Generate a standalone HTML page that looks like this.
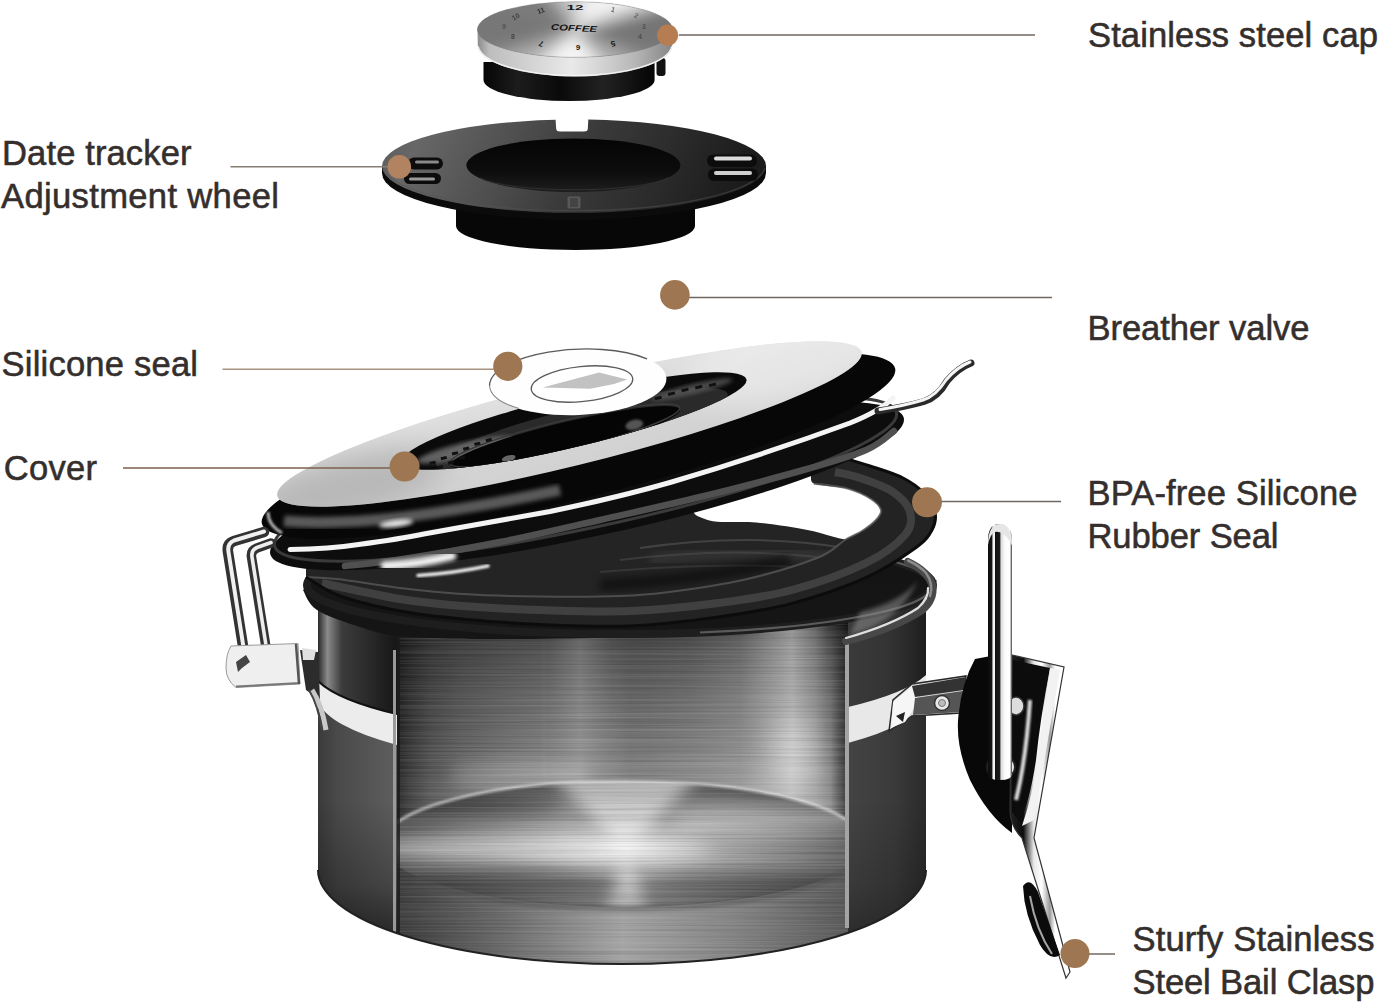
<!DOCTYPE html>
<html lang="en">
<head>
<meta charset="utf-8">
<title>Coffee canister parts</title>
<style>
html,body{margin:0;padding:0;background:#fff;}
body{width:1381px;height:1003px;overflow:hidden;position:relative;}
svg{position:absolute;left:0;top:0;display:block;}
text{font-family:"Liberation Sans",Arial,Helvetica,sans-serif;}
.lbl{font-size:34.6px;fill:#342e2c;stroke:#342e2c;stroke-width:.55px;}
.ln{stroke:#72675f;stroke-width:1.5;fill:none;}
.dot{fill:#9e7651;}
</style>
</head>
<body>
<svg width="1381" height="1003" viewBox="0 0 1381 1003">
<defs>
<filter id="b1" x="-20%" y="-20%" width="140%" height="140%"><feGaussianBlur stdDeviation="1"/></filter>
<filter id="b2" x="-20%" y="-20%" width="140%" height="140%"><feGaussianBlur stdDeviation="2"/></filter>
<filter id="b4" x="-30%" y="-30%" width="160%" height="160%"><feGaussianBlur stdDeviation="4"/></filter>
<filter id="b8" x="-40%" y="-40%" width="180%" height="180%"><feGaussianBlur stdDeviation="8"/></filter>
<filter id="b14" x="-50%" y="-50%" width="200%" height="200%"><feGaussianBlur stdDeviation="14"/></filter>
<filter id="b25" x="-60%" y="-60%" width="220%" height="220%"><feGaussianBlur stdDeviation="25"/></filter>
<filter id="brush" x="0" y="0" width="100%" height="100%">
  <feTurbulence type="fractalNoise" baseFrequency="0.004 0.55" numOctaves="2" seed="7" result="n"/>
  <feColorMatrix in="n" type="matrix" values="0 0 0 0 1  0 0 0 0 1  0 0 0 0 1  1.6 0 0 0 -0.62"/>
</filter>
<filter id="brushd" x="0" y="0" width="100%" height="100%">
  <feTurbulence type="fractalNoise" baseFrequency="0.004 0.55" numOctaves="2" seed="11" result="n"/>
  <feColorMatrix in="n" type="matrix" values="0 0 0 0 0  0 0 0 0 0  0 0 0 0 0  1.6 0 0 0 -0.62"/>
</filter>
<clipPath id="capface"><ellipse cx="575" cy="29.5" rx="97.5" ry="27.8"/></clipPath>
<linearGradient id="capside" x1="0" x2="1" y1="0" y2="0">
  <stop offset="0" stop-color="#8a8a8a"/><stop offset="0.06" stop-color="#bdbdbd"/><stop offset="0.3" stop-color="#d6d6d6"/>
  <stop offset="0.48" stop-color="#e9e9e9"/><stop offset="0.6" stop-color="#d9d9d9"/><stop offset="0.8" stop-color="#b8b8b8"/><stop offset="1" stop-color="#858585"/>
</linearGradient>
<linearGradient id="capblk" x1="0" x2="1" y1="0" y2="0">
  <stop offset="0" stop-color="#060606"/><stop offset="0.2" stop-color="#1c1c1c"/><stop offset="0.45" stop-color="#0a0a0a"/>
  <stop offset="0.7" stop-color="#222"/><stop offset="1" stop-color="#050505"/>
</linearGradient>
<linearGradient id="whface" x1="0" x2="1" y1="0" y2="0.12">
  <stop offset="0" stop-color="#5a5a5a"/><stop offset="0.12" stop-color="#676767"/><stop offset="0.35" stop-color="#505050"/><stop offset="0.55" stop-color="#3b3b3b"/><stop offset="0.8" stop-color="#2a2a2a"/><stop offset="1" stop-color="#1b1b1b"/>
</linearGradient>
<linearGradient id="whhole" x1="0" x2="0" y1="0" y2="1">
  <stop offset="0" stop-color="#050505"/><stop offset="0.6" stop-color="#0c0c0c"/><stop offset="1" stop-color="#1e1e1e"/>
</linearGradient>
<clipPath id="body"><rect x="318" y="560" width="608" height="310"/><ellipse cx="622" cy="870" rx="304" ry="94"/></clipPath>
<clipPath id="cutX"><rect x="397" y="560" width="451" height="420"/></clipPath>
<clipPath id="shellLX"><rect x="318" y="560" width="79" height="420"/></clipPath>
<clipPath id="shellRX"><rect x="848" y="560" width="78" height="420"/></clipPath>
<linearGradient id="wallV" x1="0" x2="0" y1="622" y2="790" gradientUnits="userSpaceOnUse">
  <stop offset="0" stop-color="#343434"/><stop offset="0.15" stop-color="#525252"/><stop offset="0.45" stop-color="#6e6e6e"/><stop offset="0.75" stop-color="#808080"/><stop offset="1" stop-color="#929292"/>
</linearGradient>
<linearGradient id="wallH" x1="397" x2="848" y1="0" y2="0" gradientUnits="userSpaceOnUse">
  <stop offset="0.000" stop-color="#000" stop-opacity="0.7"/><stop offset="0.029" stop-color="#000" stop-opacity="0.55"/><stop offset="0.073" stop-color="#000" stop-opacity="0.38"/><stop offset="0.140" stop-color="#000" stop-opacity="0.24"/><stop offset="0.228" stop-color="#000" stop-opacity="0.13"/><stop offset="0.317" stop-color="#000" stop-opacity="0.03"/><stop offset="0.335" stop-color="#fff" stop-opacity="0"/><stop offset="0.406" stop-color="#fff" stop-opacity="0.16"/><stop offset="0.477" stop-color="#fff" stop-opacity="0"/><stop offset="0.479" stop-color="#000" stop-opacity="0"/><stop offset="0.517" stop-color="#000" stop-opacity="0.07"/><stop offset="0.561" stop-color="#000" stop-opacity="0.06"/><stop offset="0.639" stop-color="#000" stop-opacity="0"/><stop offset="0.641" stop-color="#fff" stop-opacity="0"/><stop offset="0.761" stop-color="#fff" stop-opacity="0.12"/><stop offset="0.876" stop-color="#fff" stop-opacity="0.45"/><stop offset="0.927" stop-color="#fff" stop-opacity="0.22"/><stop offset="0.958" stop-color="#fff" stop-opacity="0"/><stop offset="0.960" stop-color="#000" stop-opacity="0"/><stop offset="0.978" stop-color="#000" stop-opacity="0.3"/><stop offset="1.000" stop-color="#000" stop-opacity="0.62"/>
</linearGradient>
<radialGradient id="floorG" cx="625" cy="849" r="240" gradientUnits="userSpaceOnUse" gradientTransform="translate(0 617.2) scale(1 0.273)">
  <stop offset="0" stop-color="#f2f2f2"/><stop offset="0.18" stop-color="#cdcdcd"/><stop offset="0.45" stop-color="#a2a2a2"/><stop offset="0.75" stop-color="#808080"/><stop offset="1" stop-color="#5c5c5c"/>
</radialGradient>
<linearGradient id="frontG" x1="397" x2="848" y1="0" y2="0" gradientUnits="userSpaceOnUse">
  <stop offset="0" stop-color="#3e3e3e"/><stop offset="0.25" stop-color="#6e6e6e"/><stop offset="0.5" stop-color="#a4a4a4"/><stop offset="0.75" stop-color="#858585"/><stop offset="1" stop-color="#5a5a5a"/>
</linearGradient>
<linearGradient id="shellLG" x1="318" x2="397" y1="0" y2="0" gradientUnits="userSpaceOnUse">
  <stop offset="0" stop-color="#3a3a3a"/><stop offset="0.25" stop-color="#4a4a4a"/><stop offset="1" stop-color="#5e5e5e"/>
</linearGradient>
<linearGradient id="shellBot" x1="0" x2="0" y1="800" y2="940" gradientUnits="userSpaceOnUse">
  <stop offset="0" stop-color="#000" stop-opacity="0"/><stop offset="0.6" stop-color="#000" stop-opacity=".25"/><stop offset="1" stop-color="#000" stop-opacity=".6"/>
</linearGradient>
<linearGradient id="shellRG" x1="848" x2="926" y1="0" y2="0" gradientUnits="userSpaceOnUse">
  <stop offset="0" stop-color="#444"/><stop offset="0.6" stop-color="#3a3a3a"/><stop offset="1" stop-color="#2a2a2a"/>
</linearGradient>
<linearGradient id="shellLT" x1="318" x2="397" y1="0" y2="0" gradientUnits="userSpaceOnUse">
  <stop offset="0" stop-color="#2a2a2a"/><stop offset="0.12" stop-color="#8a8a8a"/><stop offset="0.3" stop-color="#3c3c3c"/><stop offset="1" stop-color="#161616"/>
</linearGradient>
<linearGradient id="shellRT" x1="848" x2="926" y1="0" y2="0" gradientUnits="userSpaceOnUse">
  <stop offset="0" stop-color="#3a3a3a"/><stop offset="0.5" stop-color="#343434"/><stop offset="0.85" stop-color="#262626"/><stop offset="1" stop-color="#1c1c1c"/>
</linearGradient>
<linearGradient id="lidface" x1="275" y1="493" x2="869" y2="354" gradientUnits="userSpaceOnUse">
  <stop offset="0" stop-color="#9e9e9e"/><stop offset="0.1" stop-color="#bdbdbd"/><stop offset="0.3" stop-color="#c9c9c9"/><stop offset="0.6" stop-color="#d6d6d6"/><stop offset="0.85" stop-color="#e9e9e9"/><stop offset="1" stop-color="#f3f3f3"/>
</linearGradient>
<linearGradient id="lidfaceV" x1="0" y1="-40" x2="0" y2="40" gradientUnits="userSpaceOnUse">
  <stop offset="0" stop-color="#fff" stop-opacity=".32"/><stop offset="0.35" stop-color="#fff" stop-opacity=".12"/><stop offset="1" stop-color="#fff" stop-opacity="0"/>
</linearGradient>
<clipPath id="lidhole"><ellipse cx="0" cy="0" rx="177.7" ry="25.8"/></clipPath>
<clipPath id="lidfc"><ellipse cx="0" cy="0" rx="300.8" ry="42"/></clipPath>
<linearGradient id="rodG" x1="988" x2="1012" y1="0" y2="0" gradientUnits="userSpaceOnUse">
  <stop offset="0" stop-color="#0c0c0c"/><stop offset="0.17" stop-color="#141414"/><stop offset="0.2" stop-color="#eee"/><stop offset="0.28" stop-color="#f4f4f4"/><stop offset="0.31" stop-color="#101010"/><stop offset="0.49" stop-color="#1c1c1c"/><stop offset="0.54" stop-color="#dadada"/><stop offset="0.7" stop-color="#fbfbfb"/><stop offset="0.9" stop-color="#fff"/><stop offset="0.95" stop-color="#b0b0b0"/><stop offset="1" stop-color="#777"/>
</linearGradient>
<linearGradient id="plateG" x1="1010" x2="1063" y1="0" y2="0" gradientUnits="userSpaceOnUse">
  <stop offset="0" stop-color="#222"/><stop offset="0.25" stop-color="#0c0c0c"/><stop offset="0.45" stop-color="#e8e8e8"/><stop offset="0.6" stop-color="#fff"/><stop offset="0.75" stop-color="#9a9a9a"/><stop offset="0.85" stop-color="#fff"/><stop offset="1" stop-color="#fff"/>
</linearGradient>
<clipPath id="floorC"><ellipse cx="624" cy="844" rx="242" ry="63"/></clipPath>

</defs>
<g id="cap">
<!-- black base -->
<path d="M483.5 62 L483.5 80 A85.5 21 0 0 0 654.6 80 L654.6 62 Z" fill="url(#capblk)"/>
<!-- tab -->
<rect x="656.5" y="58" width="9" height="18" rx="3" fill="#111"/>
<!-- steel side -->
<path d="M477.5 29.5 L477.8 45 A97.2 31.5 0 0 0 672.2 45 L672.5 29.5 Z" fill="url(#capside)"/>
<path d="M478.2 46.5 A97 31 0 0 0 671.8 46.5" fill="none" stroke="#f2f2f2" stroke-width="1.3"/>
<!-- face -->
<ellipse cx="575" cy="29.5" rx="97.5" ry="27.8" fill="#7c7c7c"/>
<g clip-path="url(#capface)">
  <g filter="url(#b8)">
    <path d="M575 30 L575 -40 L720 -40 L690 -5 Z" fill="#f2f2f2"/>
    <path d="M575 30 L520 -40 L590 -40 Z" fill="#c4c4c4"/>
    <path d="M575 30 L500 90 L625 90 Z" fill="#f4f4f4"/>
    <path d="M575 30 L620 90 L690 80 Z" fill="#b0b0b0"/>
    <path d="M575 30 L440 75 L510 90 Z" fill="#b4b4b4"/>
    <path d="M575 30 L720 0 L720 60 Z" fill="#747474"/>
    <path d="M575 30 L430 -10 L430 55 Z" fill="#777"/>
  </g>
</g>
<ellipse cx="575" cy="29.5" rx="97.5" ry="27.8" fill="none" stroke="#7a7a7a" stroke-opacity=".35" stroke-width="1"/>
<!-- markings -->
<g fill="#151515" font-weight="700" text-anchor="middle" font-size="8">
  <text x="574" y="31" font-size="8.5" font-style="italic" textLength="46" lengthAdjust="spacingAndGlyphs" transform="rotate(3 574 28)">COFFEE</text>
  <text x="575" y="10" font-size="7.5" textLength="17" lengthAdjust="spacingAndGlyphs">12</text>
  <text x="541" y="13" font-size="7" transform="rotate(-20 541 11)" opacity=".8">11</text>
  <text x="516" y="19" font-size="7" transform="rotate(-30 516 17)" opacity=".55">10</text>
  <text x="613" y="12" font-size="7" transform="rotate(18 613 10)" opacity=".6">1</text>
  <text x="636" y="18" font-size="7" transform="rotate(25 636 16)" opacity=".45">2</text>
  <text x="644" y="29" font-size="7" opacity=".4">3</text>
  <text x="640" y="39" font-size="7" opacity=".45">4</text>
  <text x="504" y="29" font-size="7" opacity=".4">9</text>
  <text x="513" y="39" font-size="7" opacity=".55">8</text>
  <text x="541" y="47" font-size="8" transform="rotate(200 541 44)">7</text>
  <text x="578" y="51" font-size="8" transform="rotate(180 578 48)">6</text>
  <text x="613" y="47" font-size="8" transform="rotate(165 613 44)">5</text>
</g>
</g>

<g id="wheel">
<!-- lower cylinder -->
<path d="M456 200 L456 226 A119.5 24 0 0 0 695 226 L695 200 Z" fill="#070707"/>
<!-- rim -->
<path d="M382 166 L382 173 A192 46.8 0 0 0 766 173 L766 166 Z" fill="#0b0b0b"/>
<!-- face with notch -->
<path d="M382 166 A192 46.8 0 0 1 555.6 119.8 L556.2 129 Q556.5 131.5 560 131.5 L584 131.5 Q587.6 131.5 587.8 129 L588.3 119.5 A192 46.8 0 0 1 766 166 A192 46.8 0 0 1 382 166 Z" fill="url(#whface)"/>
<path d="M383 168 A191.5 46 0 0 0 765 168" fill="none" stroke="#555" stroke-opacity=".5" stroke-width="1.2"/>
<!-- hole -->
<ellipse cx="573.4" cy="165.3" rx="107" ry="26.8" fill="url(#whhole)"/>
<path d="M480 178 A100 18 0 0 0 668 178" fill="none" stroke="#3a3a3a" stroke-width="1" opacity=".7"/>
<!-- slots left -->
<rect x="408" y="157.5" width="35" height="12" rx="6" fill="#0c0c0c"/>
<rect x="404" y="173" width="37" height="11" rx="5.5" fill="#0c0c0c"/>
<rect x="415" y="160.5" width="24" height="3" rx="1.5" fill="#8a8a8a"/>
<rect x="409" y="177.5" width="26" height="3" rx="1.5" fill="#9a9a9a"/>
<!-- slots right -->
<rect x="707" y="154.5" width="50" height="12.5" rx="6" fill="#0c0c0c"/>
<rect x="708" y="168.5" width="50" height="12.5" rx="6" fill="#0c0c0c"/>
<rect x="714" y="156.5" width="38" height="4" rx="2" fill="#dcdcdc"/>
<rect x="714" y="171" width="38" height="4" rx="2" fill="#cfcfcf"/>
<!-- tab -->
<rect x="567.5" y="196.5" width="13" height="12" rx="1.5" fill="#585858"/>
<rect x="570" y="198" width="8" height="9" fill="#444"/>
</g>

<g id="can">
<!-- back rim + inside seen from top -->
<ellipse cx="620" cy="583" rx="315" ry="50" fill="#141414"/>
<!-- shells -->
<g clip-path="url(#body)"><g clip-path="url(#shellLX)">
  <rect x="318" y="590" width="79" height="360" fill="url(#shellLG)"/>
  <rect x="318" y="790" width="79" height="160" fill="url(#shellBot)"/>
  <!-- upper dark part above band -->
  <path d="M318 590 L397 590 L397 716 A304 70 0 0 1 318 682 Z" fill="url(#shellLT)"/>
  <!-- chrome band -->
  <path d="M318 681 A304 70 0 0 0 397 714 L397 745 A304 74 0 0 1 318 701 Z" fill="#ececec"/>
  <path d="M318 681 A304 70 0 0 0 397 714" fill="none" stroke="#111" stroke-width="2"/>
</g></g>
<g clip-path="url(#body)"><g clip-path="url(#shellRX)">
  <rect x="848" y="590" width="78" height="360" fill="url(#shellRG)"/>
  <rect x="848" y="790" width="78" height="160" fill="url(#shellBot)" opacity=".6"/>
  <path d="M848 590 L926 590 L926 676 A304 70 0 0 1 848 708 Z" fill="url(#shellRT)"/>
  <path d="M848 707 A304 70 0 0 0 926 675 L926 700 A304 74 0 0 1 848 743 Z" fill="#e8e8e8"/>
</g></g>
<!-- cutaway interior -->
<g clip-path="url(#body)"><g clip-path="url(#cutX)">
  <rect x="397" y="600" width="451" height="370" fill="url(#wallV)"/>
  <rect x="397" y="600" width="451" height="370" fill="url(#wallH)"/>
  <ellipse cx="795" cy="752" rx="22" ry="34" fill="#fff" opacity=".35" filter="url(#b14)"/>
  <ellipse cx="520" cy="775" rx="70" ry="16" fill="#fff" opacity=".18" filter="url(#b8)"/>
  <!-- front wall below floor -->
  <path d="M380 850 L870 850 L870 980 L380 980 Z" fill="url(#frontG)"/>
  <!-- floor -->
  <ellipse cx="624" cy="844" rx="242" ry="63" fill="url(#floorG)"/>
  <g clip-path="url(#floorC)">
    <path d="M625 850 L535 760 L715 760 Z" fill="#fff" opacity=".55" filter="url(#b8)"/>
    <path d="M625 848 L600 930 L654 930 Z" fill="#fff" opacity=".42" filter="url(#b8)"/>
    <ellipse cx="520" cy="848" rx="190" ry="9" fill="#fff" opacity=".5" filter="url(#b8)"/>
    <ellipse cx="770" cy="820" rx="100" ry="16" fill="#fff" opacity=".3" filter="url(#b8)"/>
    <ellipse cx="470" cy="806" rx="90" ry="12" fill="#000" opacity=".28" filter="url(#b8)"/>
    <ellipse cx="510" cy="884" rx="110" ry="13" fill="#000" opacity=".38" filter="url(#b8)"/>
    <ellipse cx="745" cy="884" rx="105" ry="12" fill="#000" opacity=".3" filter="url(#b8)"/>
  </g>
  <path d="M382 844 A242 63 0 0 1 866 844" fill="none" stroke="#f0f0f0" stroke-width="3" opacity=".6" filter="url(#b1)"/>
  <path d="M382 846 A242 63 0 0 0 866 846" fill="none" stroke="#4a4a4a" stroke-width="5" opacity=".55" filter="url(#b2)"/>
  <!-- brushed texture -->
  <rect x="397" y="600" width="451" height="370" filter="url(#brush)" opacity=".16"/>
  <rect x="397" y="600" width="451" height="370" filter="url(#brushd)" opacity=".16"/>
  <!-- edges -->
  <rect x="397" y="600" width="3" height="370" fill="#1a1a1a" opacity=".8"/>
</g></g>
<path id="rimshadow" d="M303.0 590.0 C305.3 593.3 307.5 603.8 317.0 610.0 C326.5 616.2 346.7 622.7 360.0 627.0 C373.3 631.3 382.0 634.1 397.0 636.0 C412.0 637.9 429.5 638.0 450.0 638.5 C470.5 639.0 491.7 639.2 520.0 639.0 C548.3 638.8 590.0 638.2 620.0 637.5 C650.0 636.8 676.7 635.7 700.0 634.5 C723.3 633.3 742.3 631.8 760.0 630.5 C777.7 629.2 792.2 628.2 806.0 627.0 C819.8 625.8 829.0 625.7 843.0 623.0 C857.0 620.3 876.2 615.5 890.0 611.0 C903.8 606.5 918.2 601.2 926.0 596.0 C933.8 590.8 935.2 582.7 937.0 580.0 L930 584 L310 584 Z" fill="#151515"/>
<rect x="845" y="642" width="4" height="286" fill="#a4a4a4"/>
<rect x="393" y="650" width="3" height="282" fill="#9a9a9a"/>
<!-- bottom edge -->
<path d="M318 870 A304 94 0 0 0 926 870" fill="none" stroke="#222" stroke-width="2"/>
</g>

<g id="ring">
<!-- can rim front roll -->
<ellipse cx="620" cy="585" rx="313" ry="49" fill="none" stroke="#1e1e1e" stroke-width="8"/>
<path d="M700 632.5 A313 49 0 0 0 933 585 A313 49 0 0 0 880 558" fill="none" stroke="#6a6a6a" stroke-width="2.2" opacity=".8"/>
<path d="M860 612 Q905 600 918 580 Q900 622 850 635 Z" fill="#8a8a8a" opacity=".55" filter="url(#b2)"/>
<path d="M846 641 Q892 629 922 610 Q934 600 932.5 586 Q929 572 908 562" fill="none" stroke="#484848" stroke-width="8" stroke-linecap="round"/>
<path d="M846 638 Q892 625 918 608 Q929 598 928 588" fill="none" stroke="#dedede" stroke-width="2.2" stroke-linecap="round"/>
<path id="rimhl" d="M930 596 Q934 584 926 573 Q920 566 908 560.5" fill="none" stroke="#8c8c8c" stroke-width="2.5" stroke-linecap="round"/>
<!-- dark seen through ring -->
<path d="M306 577 L306 560 L640 470 L834 440 L834 455 L834.0 455.0 C840.0 456.8 858.5 462.2 870.0 466.0 C881.5 469.8 893.8 473.3 903.0 478.0 C912.2 482.7 919.7 488.3 925.0 494.0 C930.3 499.7 933.8 506.0 935.0 512.0 C936.2 518.0 935.3 524.0 932.0 530.0 C928.7 536.0 926.4 540.1 915.4 548.0 C904.4 555.9 886.6 568.4 866.0 577.6 C845.4 586.8 816.6 596.8 792.0 603.4 C767.4 610.0 745.5 613.2 718.5 617.0 C691.5 620.8 659.8 624.8 630.0 626.0 C600.2 627.2 568.0 625.7 540.0 624.5 C512.0 623.3 485.3 621.2 462.0 619.0 C438.7 616.8 420.3 614.8 400.0 611.0 C379.7 607.2 355.7 601.7 340.0 596.0 C324.3 590.3 311.7 580.2 306.0 577.0 Z" fill="#242424"/>
<path d="M640 548 Q750 532 845 548" fill="none" stroke="#4a4a4a" stroke-width="2" opacity=".8"/>
<path d="M620 560 Q750 544 850 562" fill="none" stroke="#404040" stroke-width="2" opacity=".8"/>
<path d="M600 572 Q740 560 830 570" fill="none" stroke="#3c3c3c" stroke-width="2" opacity=".8"/>
<path d="M650 560 Q760 545 850 560" fill="none" stroke="#555" stroke-width="10" opacity=".35" filter="url(#b4)"/>
<path d="M600 585 Q700 580 790 560" fill="none" stroke="#000" stroke-width="12" opacity=".5" filter="url(#b4)"/>
<!-- white gap -->
<path d="M709.5 520.5 C718.9 523.4 739.9 520.9 756.4 522.5 C772.9 524.1 794.7 527.6 808.6 530.3 C822.5 533.0 833.2 537.2 839.8 538.5 C846.4 539.8 844.3 539.2 848.0 538.0 C851.7 536.8 857.3 534.0 862.0 531.0 C866.7 528.0 872.8 523.5 876.0 520.0 C879.2 516.5 881.8 513.5 881.0 510.0 C880.2 506.5 876.6 502.6 871.0 499.0 C865.4 495.4 857.1 491.2 847.6 488.6 C838.1 486.0 821.7 486.5 813.8 483.4 C805.9 480.3 819.0 466.4 800.0 470.0 C781.0 473.6 715.1 496.6 700.0 505.0 C684.9 513.4 700.1 517.6 709.5 520.5 Z" fill="#fff"/>
<!-- ring band -->
<path d="M306.0 577.0 C311.7 580.2 324.3 590.3 340.0 596.0 C355.7 601.7 379.7 607.2 400.0 611.0 C420.3 614.8 438.7 616.8 462.0 619.0 C485.3 621.2 512.0 623.3 540.0 624.5 C568.0 625.7 600.2 627.2 630.0 626.0 C659.8 624.8 691.5 620.8 718.5 617.0 C745.5 613.2 767.4 610.0 792.0 603.4 C816.6 596.8 845.4 586.8 866.0 577.6 C886.6 568.4 904.4 555.9 915.4 548.0 C926.4 540.1 928.7 536.0 932.0 530.0 C935.3 524.0 936.2 518.0 935.0 512.0 C933.8 506.0 930.3 499.7 925.0 494.0 C919.7 488.3 912.2 482.7 903.0 478.0 C893.8 473.3 881.5 469.8 870.0 466.0 C858.5 462.2 840.0 456.8 834.0 455.0 L813.8 483.4 C819.4 484.3 838.1 486.0 847.6 488.6 C857.1 491.2 865.4 495.4 871.0 499.0 C876.6 502.6 880.2 506.5 881.0 510.0 C881.8 513.5 879.2 516.5 876.0 520.0 C872.8 523.5 867.2 527.7 862.0 531.0 C856.8 534.3 852.5 535.5 845.0 540.0 C837.5 544.5 834.0 551.3 817.0 558.0 C800.0 564.7 767.7 574.3 743.0 580.0 C718.3 585.7 689.5 589.3 669.0 592.0 C648.5 594.7 641.5 595.2 620.0 596.0 C598.5 596.8 566.3 596.8 540.0 596.5 C513.7 596.2 485.3 595.4 462.0 594.0 C438.7 592.6 420.8 590.5 400.0 588.0 C379.2 585.5 352.7 580.8 337.0 579.0 C321.3 577.2 311.2 577.3 306.0 577.0 Z" fill="#232323"/>
<path d="M322.0 583.0 C335.0 585.7 376.7 595.2 400.0 599.0 C423.3 602.8 438.7 604.2 462.0 606.0 C485.3 607.8 512.0 609.2 540.0 610.0 C568.0 610.8 600.2 612.2 630.0 611.0 C659.8 609.8 691.5 606.5 718.5 603.0 C745.5 599.5 767.4 596.7 792.0 590.0 C816.6 583.3 847.2 572.2 866.0 563.0 C884.8 553.8 897.7 543.5 905.0 535.0 C912.3 526.5 912.0 519.2 910.0 512.0 C908.0 504.8 901.3 497.7 893.0 492.0 C884.7 486.3 869.7 481.3 860.0 478.0 C850.3 474.7 839.2 473.0 835.0 472.0" fill="none" stroke="#424242" stroke-width="8" opacity=".95"/>
<path d="M813.8 483.4 C819.4 484.3 838.1 486.0 847.6 488.6 C857.1 491.2 865.4 495.4 871.0 499.0 C876.6 502.6 880.2 506.5 881.0 510.0 C881.8 513.5 879.2 516.5 876.0 520.0 C872.8 523.5 867.2 527.7 862.0 531.0 C856.8 534.3 852.5 535.5 845.0 540.0 C837.5 544.5 834.0 551.3 817.0 558.0 C800.0 564.7 767.7 574.3 743.0 580.0 C718.3 585.7 689.5 589.3 669.0 592.0 C648.5 594.7 641.5 595.2 620.0 596.0 C598.5 596.8 566.3 596.8 540.0 596.5 C513.7 596.2 485.3 595.4 462.0 594.0 C438.7 592.6 420.8 590.5 400.0 588.0 C379.2 585.5 352.7 580.8 337.0 579.0 C321.3 577.2 311.2 577.3 306.0 577.0" fill="none" stroke="#585858" stroke-width="2" opacity=".8"/>
<path d="M306.0 577.0 C311.7 580.2 324.3 590.3 340.0 596.0 C355.7 601.7 379.7 607.2 400.0 611.0 C420.3 614.8 438.7 616.8 462.0 619.0 C485.3 621.2 512.0 623.3 540.0 624.5 C568.0 625.7 600.2 627.2 630.0 626.0 C659.8 624.8 691.5 620.8 718.5 617.0 C745.5 613.2 767.4 610.0 792.0 603.4 C816.6 596.8 845.4 586.8 866.0 577.6 C886.6 568.4 904.4 555.9 915.4 548.0 C926.4 540.1 928.7 536.0 932.0 530.0 C935.3 524.0 936.2 518.0 935.0 512.0 C933.8 506.0 930.3 499.7 925.0 494.0 C919.7 488.3 912.2 482.7 903.0 478.0 C893.8 473.3 881.5 469.8 870.0 466.0 C858.5 462.2 840.0 456.8 834.0 455.0" fill="none" stroke="#0c0c0c" stroke-width="3"/>
</g>
<g id="lid">
<!-- under-lid band -->
<g transform="translate(587 486) rotate(-12.1)">
  <ellipse cx="0" cy="0" rx="324" ry="51" fill="#0d0d0d"/>
  <ellipse cx="0" cy="-7" rx="318" ry="49" fill="none" stroke="#3a3a3a" stroke-width="3" />
</g>
<path id="ulgray" d="M345.0 566.0 C354.2 564.9 374.2 563.5 400.0 559.5 C425.8 555.5 466.7 548.6 500.0 542.0 C533.3 535.4 566.7 527.5 600.0 520.0 C633.3 512.5 666.7 505.2 700.0 497.0 C733.3 488.8 772.3 478.8 800.0 471.0 C827.7 463.2 850.3 456.7 866.0 450.0 C881.7 443.3 889.3 434.2 894.0 431.0" fill="none" stroke="#505050" stroke-width="6.5" stroke-linecap="round"/>
<!-- highlight on under band -->
<path d="M385 566 Q420 564 452 556" fill="none" stroke="#f2f2f2" stroke-width="9" stroke-linecap="round" filter="url(#b2)"/>
<path d="M418 575.5 Q455 573 488 566" fill="none" stroke="#e8e8e8" stroke-width="3.5" stroke-linecap="round" filter="url(#b1)"/>
<!-- rim -->
<g transform="translate(578.5 446) rotate(-13.8)">
  <ellipse cx="0" cy="0" rx="326" ry="52" fill="#070707"/>
</g>
<!-- chrome wire highlight -->
<path d="M290 549.5 Q330 549 358.6 544.5 Q400 539 423.8 534 Q480 524 550 511.5 Q620 497 671.7 482 Q760 456 850 423 Q880 411 893 398" fill="none" stroke="#f4f4f4" stroke-width="5" stroke-linecap="round"/>
<path d="M284 521 Q330 525 400 517.5 Q470 509 560 490" fill="none" stroke="#6e6e6e" stroke-width="11" opacity=".8" filter="url(#b2)"/>
<ellipse cx="396" cy="523.5" rx="17" ry="3.5" fill="#fff" opacity=".9" filter="url(#b2)" transform="rotate(-7 396 523.5)"/>
<path d="M268 512 Q268 525 282 533" fill="none" stroke="#ddd" stroke-width="3" opacity=".8" filter="url(#b1)"/>
<!-- face -->
<g transform="translate(569.5 424) rotate(-13.83)">
  <ellipse cx="0" cy="0" rx="300.8" ry="42" fill="#d2d2d2"/>
  <g clip-path="url(#lidfc)">
    <ellipse cx="0" cy="0" rx="300.8" ry="42" fill="url(#lidfaceV)"/>
    <ellipse cx="-230" cy="8" rx="100" ry="30" fill="#a0a0a0" opacity=".55" filter="url(#b14)"/>
    <ellipse cx="230" cy="-10" rx="110" ry="40" fill="#fff" opacity=".4" filter="url(#b14)"/>
  </g>
</g>
<!-- hole in lid -->
<g transform="translate(573.7 421) rotate(-13.6)">
  <ellipse cx="0" cy="0" rx="177.7" ry="25.8" fill="#0a0a0a"/>
  <g clip-path="url(#lidhole)">
    <ellipse cx="6" cy="10" rx="150" ry="22" fill="#2a2a2a"/>
    <ellipse cx="-112" cy="2.5" rx="50" ry="7.5" fill="#6c6c6c" opacity=".9" filter="url(#b2)"/>
    <ellipse cx="122" cy="-3" rx="42" ry="5" fill="#5a5a5a" opacity=".8" filter="url(#b2)"/>
    <ellipse cx="-12" cy="14" rx="118" ry="15" fill="#050505"/>
    <ellipse cx="-12" cy="12" rx="118" ry="15" fill="none" stroke="#3a3a3a" stroke-width="1.5"/>
    <ellipse cx="-72" cy="21" rx="7" ry="3" fill="#666"/>
    <ellipse cx="58" cy="18" rx="9" ry="5" fill="#555" filter="url(#b1)"/>
    <g fill="#111">
      <rect x="-150" y="6" width="6" height="3"/><rect x="-138" y="4" width="6" height="3"/><rect x="-126" y="2" width="6" height="3"/><rect x="-114" y="0" width="6" height="3"/><rect x="-102" y="-2" width="6" height="3"/><rect x="-90" y="-3" width="6" height="3"/>
      <rect x="-144" y="12" width="6" height="3"/><rect x="-132" y="10" width="6" height="3"/><rect x="-120" y="8" width="6" height="3"/>
      <rect x="84" y="-4" width="7" height="3"/><rect x="98" y="-5" width="7" height="3"/><rect x="112" y="-5.5" width="7" height="3"/><rect x="126" y="-5" width="7" height="3"/><rect x="140" y="-4" width="7" height="3"/>
    </g>
  </g>
</g>
<!-- silicone seal disc -->
<g transform="translate(578 382) rotate(-2.5)">
  <ellipse cx="0" cy="0" rx="88.5" ry="33" fill="#fefefe"/>
  <path d="M-88.5 0 A88.5 33 0 0 1 70 -20" fill="none" stroke="#5a5a5a" stroke-width="1.3"/>
  <path d="M-88.5 0 A88.5 33 0 0 0 -60 24" fill="none" stroke="#8a8a8a" stroke-width="1"/>
</g>
<g transform="translate(582 384) rotate(-6)">
  <ellipse cx="0" cy="0" rx="51" ry="17.5" fill="#fff" stroke="#5c5c5c" stroke-width="1.3"/>
</g>
<path d="M542.6 387.6 L599 372.4 L627.3 379.5 L614 384 L590.4 388.7 Z" fill="#c2c2c2"/>
</g>

<g id="clasps">
<!-- left wires -->
<g fill="none" stroke-linecap="round" stroke-linejoin="round">
  <path d="M264 532 L234 541 Q226.5 543.5 228 552 L243 646" stroke="#333" stroke-width="10.5"/>
  <path d="M264 531.5 L234 540.5 Q227 543.5 228.5 552 L243.3 646" stroke="#f0f0f0" stroke-width="4"/>
  <path d="M271 543 L257 548 Q250.5 550.5 251.5 557 L265.5 644" stroke="#333" stroke-width="9.5"/>
  <path d="M271 542.5 L257 547.5 Q251 550 252 557 L265.8 644" stroke="#ededed" stroke-width="3.6"/>
</g>
<!-- left bracket -->
<path d="M300 650 L318 652 L320 700 L306 690 Z" fill="#2c2c2c"/>
<path d="M302 648 L316 650 L314 660 L303 660 Z" fill="#e0e0e0"/>
<path d="M231 646 L298 643.5 L300 684 L236 687.5 Q226 680 226 668 Q226 654 231 646 Z" fill="#efefef" stroke="#9a9a9a" stroke-width="1"/>
<path d="M236 686.5 L300 683" stroke="#777" stroke-width="2" fill="none"/>
<path d="M296 644 L299 684" stroke="#555" stroke-width="2.5" fill="none"/>
<path d="M236 662 L246 655 L250 662 L242 668 L238 672 Z" fill="#444"/>
<path d="M312 690 Q322 705 326 730" stroke="#c8c8c8" stroke-width="5" fill="none"/>
<path d="M309 690 Q318 705 322 730" stroke="#444" stroke-width="2" fill="none"/>
<!-- right: can bracket -->
<path d="M889 731 L893 700 L912 684 L966 676 L961 713 L912 716 Z" fill="#dcdcdc" stroke="#2a2a2a" stroke-width="1.5"/>
<path d="M893 702 L912 686 L920 700 L905 722 L891 728 Z" fill="#f6f6f6"/>
<path d="M912 686 L966 677 L964 690 L915 697 Z" fill="#333"/>
<path d="M915 698 L963 691 L961 712 L913 715 Z" fill="#555"/>
<circle cx="942" cy="703" r="7.5" fill="#e8e8e8" stroke="#333" stroke-width="1.5"/>
<circle cx="942" cy="703" r="3.5" fill="#bdbdbd" stroke="#777" stroke-width="1"/>
<path d="M896 716 L905 712 L903 722 Z" fill="#222"/>
<!-- lever black plate -->
<path d="M975 659 L1012 652 L1012 833 Q988 816 970 780 Q955 745 958.5 715 Q962 682 975 659 Z" fill="#080808"/>
<!-- lever chrome plate -->
<path d="M1012 655 L1064 667 L1034 838 L1070 972 L1066 978 L1022 838 Q1010 826 1010 810 Z" fill="url(#plateG)" stroke="#333" stroke-width="1.2"/>
<path d="M1013 660 L1050 668 Q1040 720 1036 760 Q1030 800 1020 822 L1012 812 Z" fill="#0c0c0c"/>
<path d="M1050 668 L1060 670 L1034 820 L1022 826 Q1034 790 1038 756 Q1042 716 1050 668 Z" fill="#f2f2f2"/>
<path d="M1030 700 Q1026 760 1016 800" stroke="#ddd" stroke-width="4" fill="none" filter="url(#b1)"/>
<!-- handle oval -->
<path d="M1023 886 Q1030 876 1038 892 L1060 955 Q1050 962 1040 945 Q1024 915 1023 886 Z" fill="#0b0b0b"/>
<path d="M1030 896 Q1036 930 1052 954" stroke="#ccc" stroke-width="2" fill="none" opacity=".8"/>
<!-- rivets -->
<ellipse cx="1016" cy="706" rx="8" ry="9" fill="#ddd" stroke="#333" stroke-width="1.5"/>
<ellipse cx="1001" cy="767" rx="14" ry="12" fill="#e6e6e6" stroke="#222" stroke-width="2"/>
<ellipse cx="1001" cy="768" rx="8" ry="7" fill="#555"/>
<!-- bail rod -->
<path d="M988 774 L988 540 Q988 524 1000 524 Q1012 524 1012 540 L1012 774 Q1012 780 1000 780 Q988 780 988 774 Z" fill="url(#rodG)"/>
<path d="M988 545 Q988 524 1000 524 Q1012 524 1012 545 Q1004 530 995 532 Q990 534 988 545 Z" fill="#e6e6e6"/>
<path d="M1011.5 545 L1011.5 774" fill="none" stroke="#666" stroke-width="1"/>
<!-- lid hook right -->
<g fill="none" stroke-linecap="round">
  <path d="M878 411 Q905 407 924 401.5 Q938 397 947 381 Q958 368 971 363" stroke="#2a2a2a" stroke-width="7"/>
  <path d="M880 409.5 Q905 405.5 923 400 Q936 396 946 380 Q957 367 970 362" stroke="#f4f4f4" stroke-width="3"/>
</g>
</g>

<g id="labels">
<path class="ln" d="M679 35H1035"/>
<path class="ln" d="M230.5 166.8H399" style="stroke:#857c74"/>
<path class="ln" d="M676 297.4H1052"/>
<path class="ln" d="M222.5 369.2H508" style="stroke:#a8927c"/>
<path class="ln" d="M123 468H404" style="stroke:#7d6250"/>
<path class="ln" d="M927 501.6H1061"/>
<path class="ln" d="M1075 954H1115"/>
<circle class="dot" cx="667.7" cy="35.2" r="10.6" style="fill:#b67d52"/>
<circle class="dot" cx="399.3" cy="166.8" r="11.8" style="fill:#b28360"/>
<circle class="dot" cx="674.9" cy="294.9" r="14.8"/>
<circle class="dot" cx="507.8" cy="366.3" r="14.6"/>
<circle class="dot" cx="404.6" cy="466.6" r="15"/>
<circle class="dot" cx="927" cy="502.3" r="15"/>
<circle class="dot" cx="1075" cy="953.5" r="14.5"/>
<text class="lbl" x="1088" y="46.5" textLength="290" lengthAdjust="spacing">Stainless steel cap</text>
<text class="lbl" x="1087.5" y="339.5" textLength="222" lengthAdjust="spacing">Breather valve</text>
<text class="lbl" x="1087.5" y="504.5" textLength="270" lengthAdjust="spacing">BPA-free Silicone</text>
<text class="lbl" x="1087.5" y="547.5" textLength="191" lengthAdjust="spacing">Rubber Seal</text>
<text class="lbl" x="1132.5" y="950.5" textLength="242" lengthAdjust="spacing">Sturfy Stainless</text>
<text class="lbl" x="1132.5" y="993.5" textLength="242" lengthAdjust="spacing">Steel Bail Clasp</text>
<text class="lbl" x="2" y="165" textLength="189.5" lengthAdjust="spacing">Date tracker</text>
<text class="lbl" x="1" y="207.8" textLength="278" lengthAdjust="spacing">Adjustment wheel</text>
<text class="lbl" x="1.5" y="375.5" textLength="196.5" lengthAdjust="spacing">Silicone seal</text>
<text class="lbl" x="3.8" y="480.3" textLength="93.3" lengthAdjust="spacing">Cover</text>
</g>

</svg>
</body>
</html>
